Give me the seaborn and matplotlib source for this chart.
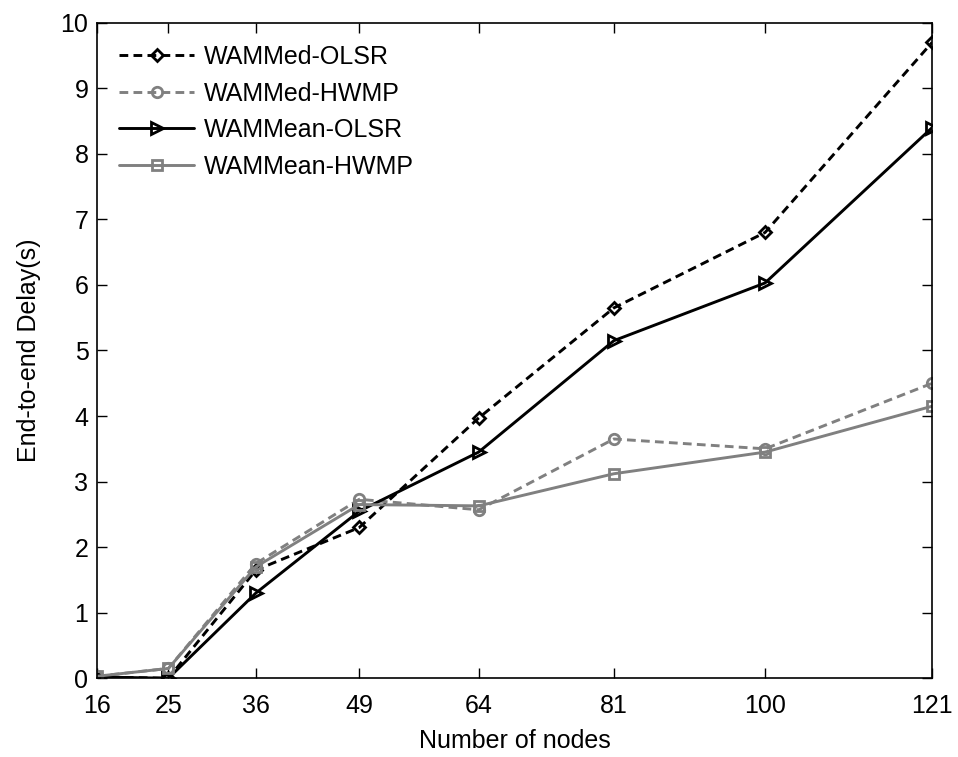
import pandas as pd
import seaborn as sns
import matplotlib.pyplot as plt

nodes = [16, 25, 36, 49, 64, 81, 100, 121]
med_olsr = [0.02, 0.0, 1.65, 2.3, 3.97, 5.65, 6.8, 9.7]
med_hwmp = [0.03, 0.15, 1.75, 2.73, 2.57, 3.65, 3.5, 4.5]
mean_olsr = [0.02, 0.0, 1.3, 2.55, 3.45, 5.15, 6.03, 8.4]
mean_hwmp = [0.03, 0.15, 1.7, 2.65, 2.63, 3.12, 3.45, 4.15]

series_names = ['WAMMed-OLSR', 'WAMMed-HWMP', 'WAMMean-OLSR', 'WAMMean-HWMP']
series_values = [med_olsr, med_hwmp, mean_olsr, mean_hwmp]
yticks = list(range(0, 11))

sns.set_style('ticks')
plt.rcParams['font.family'] = ['Liberation Sans', 'DejaVu Sans']
plt.rcParams['text.color'] = 'black'
plt.rcParams['axes.labelcolor'] = 'black'
plt.rcParams['xtick.color'] = 'black'
plt.rcParams['ytick.color'] = 'black'

gray = '#808080'
styles = {
    'WAMMed-OLSR': dict(color='black', linestyle='--', marker='D', markersize=6.5),
    'WAMMed-HWMP': dict(color=gray, linestyle='--', marker='o', markersize=7.5),
    'WAMMean-OLSR': dict(color='black', linestyle='-', marker='>', markersize=9),
    'WAMMean-HWMP': dict(color=gray, linestyle='-', marker='s', markersize=7.5),
}

fig = plt.figure(figsize=(9.58, 7.57), dpi=100)
ax = fig.add_axes([0.101, 0.104, 0.872, 0.866])

for name, vals in zip(series_names, series_values):
    df = pd.DataFrame({'nodes': nodes, 'delay': vals})
    st = styles[name]
    sns.lineplot(data=df, x='nodes', y='delay', ax=ax, label=name,
                 color=st['color'], linestyle=st['linestyle'], linewidth=2.1,
                 marker=st['marker'], markersize=st['markersize'],
                 markerfacecolor='none', markeredgecolor=st['color'],
                 markeredgewidth=2.0)

for line in ax.get_lines():
    if line.get_linestyle() == '--':
        line.set_dashes((3.0, 1.8))

ax.set_xlim(16, 121)
ax.set_ylim(0, 10)
ax.set_xticks(nodes)
ax.set_xticklabels([str(n) for n in nodes])
ax.set_yticks(yticks)
ax.tick_params(direction='in', top=True, right=True, labelsize=18, length=7,
               width=1, pad=6)
ax.tick_params(axis='x', pad=11)
for sp in ax.spines.values():
    sp.set_linewidth(1.2)
    sp.set_color('black')

ax.set_xlabel('Number of nodes', fontsize=18, labelpad=8)
ax.set_ylabel('End-to-end Delay(s)', fontsize=18, labelpad=14)

leg = ax.legend(loc='upper left', frameon=False, fontsize=18, handlelength=3.0,
                borderaxespad=0.5, labelspacing=0.5, handletextpad=0.4)
for h in leg.get_lines():
    if h.get_linestyle() == '--':
        h.set_dashes((3.0, 1.8))

fig.savefig('out.png', dpi=100)
